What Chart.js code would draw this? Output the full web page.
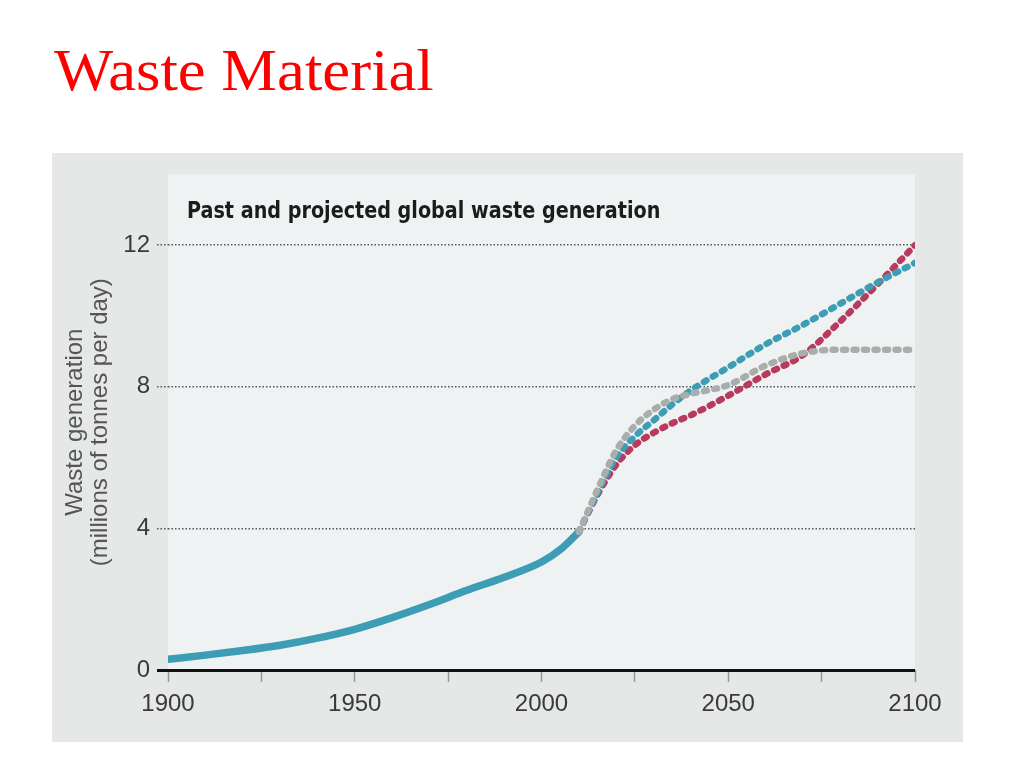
<!DOCTYPE html>
<html>
<head>
<meta charset="utf-8">
<script src="https://cdn.jsdelivr.net/npm/chart.js@4/dist/chart.umd.min.js"></script>
<style>
  body { margin: 0; background: #fff; width: 1024px; height: 768px; position: relative; overflow: hidden; }
  #pageTitle {
    position: absolute; left: 54px; top: 40px; margin: 0;
    font: 60px/1 "Liberation Serif", "Times New Roman", serif; color: #ff0000; font-weight: normal;
    transform: scaleX(1.045); transform-origin: left top;
  }
  #panel {
    position: absolute; left: 52px; top: 153px; width: 911px; height: 589px; background: #e6e8e8;
  }
  #chartTitle {
    position: absolute; left: 135px; top: 46px; white-space: nowrap;
    font: bold 23px/1 "Liberation Sans Narrow", "DejaVu Sans Condensed", sans-serif; color: #1c1c1c;
    transform: scaleX(0.927); transform-origin: left top;
  }
</style>
</head>
<body>
<h1 id="pageTitle">Waste Material</h1>
<div id="panel">
  <canvas id="wasteChart"></canvas>
  <div id="chartTitle">Past and projected global waste generation</div>
</div>
<script>
// historical (solid line)
const histYears = [1900, 1910, 1920, 1930, 1940, 1950, 1960, 1970, 1980, 1990, 2000, 2005, 2010];
const histValues = [0.3, 0.42, 0.55, 0.7, 0.9, 1.15, 1.48, 1.85, 2.25, 2.62, 3.05, 3.4, 3.9];

// projections (dotted lines)
const projYears = [2010, 2015, 2020, 2025, 2030, 2035, 2040, 2050, 2060, 2070, 2080, 2090, 2100];
const grayValues = [3.9, 5.1, 6.2, 6.9, 7.35, 7.65, 7.8, 8.05, 8.6, 8.95, 9.05, 9.05, 9.05];
const tealValues = [3.9, 5.0, 6.0, 6.6, 7.05, 7.5, 7.9, 8.55, 9.2, 9.75, 10.35, 10.95, 11.5];
const redValues = [3.9, 4.95, 5.8, 6.35, 6.7, 6.97, 7.2, 7.75, 8.35, 8.9, 9.85, 10.9, 12.0];

const yTicks = [0, 4, 8, 12];

const toPoints = (xs, ys) => xs.map((x, i) => ({ x: x, y: ys[i] }));

const plotBg = {
    id: 'plotBg',
    beforeDraw(chart) {
        const a = chart.chartArea;
        const ctx = chart.ctx;
        ctx.save();
        ctx.fillStyle = '#eff2f2';
        ctx.fillRect(a.left, a.top, a.right - a.left, a.bottom - a.top);
        ctx.restore();
    }
};

function dotted(color) {
    return {
        borderColor: color,
        borderWidth: 6.5,
        borderDash: [3, 7.5],
        borderCapStyle: 'round',
        pointRadius: 0,
        fill: false,
        cubicInterpolationMode: 'monotone'
    };
}

const isZero = c => c.tick && c.tick.value === 0;

const ctx = document.getElementById('wasteChart').getContext('2d');
new Chart(ctx, {
    type: 'line',
    data: {
        datasets: [
            Object.assign({ label: 'Low', data: toPoints(projYears, grayValues) }, dotted('#a9aeac')),
            Object.assign({ label: 'Mid', data: toPoints(projYears, tealValues) }, dotted('#3d9db5')),
            Object.assign({ label: 'High', data: toPoints(projYears, redValues) }, dotted('#b83a5c')),
            {
                label: 'Past',
                data: toPoints(histYears, histValues),
                borderColor: '#3d9db5',
                borderWidth: 7.5,
                borderCapStyle: 'round',
                pointRadius: 0,
                fill: false,
                cubicInterpolationMode: 'monotone'
            }
        ]
    },
    options: {
        responsive: true,
        maintainAspectRatio: false,
        animation: false,
        layout: { padding: { left: 10, right: 48, top: 19, bottom: 0 } },
        plugins: {
            legend: { display: false },
            title: { display: false },
            tooltip: { enabled: false }
        },
        scales: {
            x: {
                type: 'linear',
                min: 1900,
                max: 2100,
                afterFit: s => { s.height = 72; },
                border: { display: false },
                grid: {
                    drawOnChartArea: false,
                    drawTicks: true,
                    tickLength: 12,
                    tickColor: '#999',
                    tickWidth: 1.5,
                    color: '#999'
                },
                ticks: {
                    stepSize: 25,
                    autoSkip: false,
                    maxRotation: 0,
                    padding: 8,
                    color: '#3a3a3a',
                    font: { family: '"Liberation Sans", Arial, sans-serif', size: 24 },
                    callback: v => (v % 50 === 0 ? String(v) : '')
                }
            },
            y: {
                min: 0,
                max: 14,
                afterFit: s => { s.width = 106; },
                afterBuildTicks: s => { s.ticks = yTicks.map(v => ({ value: v })); },
                border: {
                    display: false,
                    dash: c => (isZero(c) ? [] : [1.5, 2])
                },
                grid: {
                    color: c => (isZero(c) ? '#111' : '#555'),
                    lineWidth: c => (isZero(c) ? 3 : 1.5),
                    tickColor: c => (isZero(c) ? '#111' : '#555'),
                    tickWidth: c => (isZero(c) ? 3 : 1.5),
                    tickBorderDash: c => (isZero(c) ? [] : [1.5, 2]),
                    tickLength: 11
                },
                ticks: {
                    padding: 7,
                    color: '#3a3a3a',
                    font: { family: '"Liberation Sans", Arial, sans-serif', size: 24 },
                    callback: v => String(v)
                },
                title: {
                    display: true,
                    text: ['Waste generation', '(millions of tonnes per day)'],
                    color: '#555',
                    padding: { top: 0.5, bottom: 0 },
                    font: { family: '"Liberation Sans", Arial, sans-serif', size: 24, lineHeight: 1.04 }
                }
            }
        }
    },
    plugins: [plotBg]
});
</script>
</body>
</html>
